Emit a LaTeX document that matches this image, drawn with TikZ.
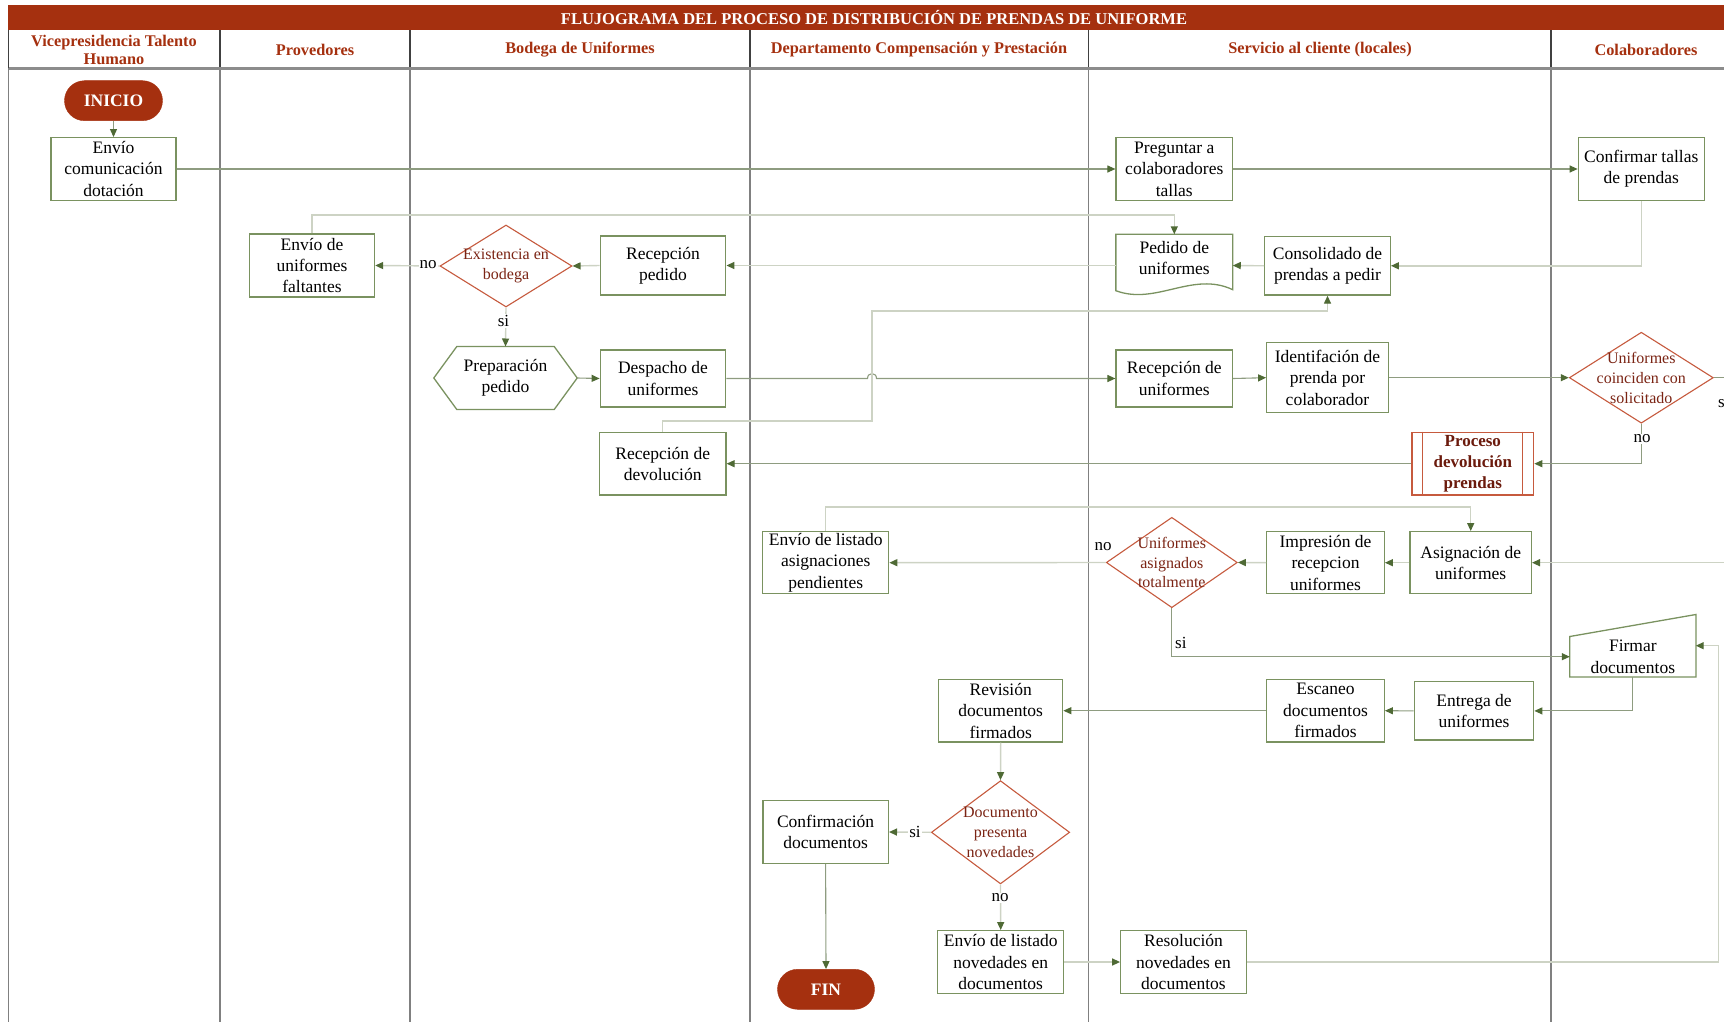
\documentclass[tikz,border=0pt]{standalone}
\usepackage{fontspec}
\setmainfont{Liberation Serif}
\usetikzlibrary{shapes.geometric,shapes.misc,arrows.meta,calc}
\definecolor{titlered}{HTML}{A5300F}
\definecolor{boxgreen}{HTML}{7A9260}
\definecolor{arrowgreen}{HTML}{4F6A35}
\definecolor{linedark}{HTML}{8E9C80}
\definecolor{linelight}{HTML}{CDD3C4}
\definecolor{decred}{HTML}{C65A3E}
\definecolor{dectext}{HTML}{7B2414}
\definecolor{proctext}{HTML}{6B1A0C}
\definecolor{lanegray}{HTML}{808080}
\tikzset{
  plainn/.style 2 args={rectangle, inner sep=0pt, align=center, minimum width=#1, minimum height=#2,
     font=\fontsize{17.5}{21.4}\selectfont, text=black},
  boxn/.style 2 args={plainn={#1}{#2}, draw=boxgreen, line width=1.3pt, fill=white},
  decn/.style 2 args={diamond, draw=decred, line width=1.1pt, fill=white, inner sep=0pt,
     minimum width=#1, minimum height=#2},
  dtxt/.style={align=center, text=dectext, inner sep=0pt, font=\fontsize{16}{19.8}\selectfont},
  termn/.style 2 args={rounded rectangle, fill=titlered, draw=titlered, text=white, inner sep=0pt,
     minimum width=#1, minimum height=#2, font=\bfseries\fontsize{17.5}{20}\selectfont},
  headt/.style={text=titlered, align=center, font=\bfseries\fontsize{16.3}{18.7}\selectfont},
  lbl/.style={fill=white, inner sep=1pt, font=\fontsize{17}{20}\selectfont},
  connd/.style={draw=linedark, line width=1.1pt, -{Triangle[length=8pt,width=7pt,color=arrowgreen]}},
  connl/.style={draw=linelight, line width=1.4pt, -{Triangle[length=8pt,width=7pt,color=arrowgreen]}},
}
\begin{document}
\begin{tikzpicture}[x=1pt,y=-1pt]
\useasboundingbox (0,0) rectangle (1724,1022);
% ---- title and header ----
\fill[titlered] (8.3,5) rectangle (1724,30);
\node[text=white, font=\bfseries\fontsize{16.5}{19}\selectfont] (title) at (874,17.5)
  {FLUJOGRAMA DEL PROCESO DE DISTRIBUCIÓN DE PRENDAS DE UNIFORME};
\foreach \x in {8.5,220,410,750,1088.5,1551}{
  \draw[lanegray, line width=1.2pt] (\x,30) -- (\x,1022);
  \draw[black!75, line width=1.2pt] (\x,30) -- (\x,68);
}
\draw[black!45, line width=2.6pt] (8.5,68.5) -- (1724,68.5);
\node[headt] (h1) at (114,50) {Vicepresidencia Talento\\Humano};
\node[headt] (h2) at (315,49.5) {Provedores};
\node[headt] (h3) at (580,49.5) {Bodega de Uniformes};
\node[headt] (h4) at (919,49.5) {Departamento Compensación y Prestación};
\node[headt] (h5) at (1320,49.5) {Servicio al cliente (locales)};
\node[headt] (h6) at (1646,49.5) {Colaboradores};
% ---- nodes ----
\node[termn={98}{40}] (init) at (113.5,100.7) {INICIO};
\node[boxn={125}{62.6}] (envio) at (113.5,169) {Envío\\comunicación\\dotación};
\node[boxn={116.5}{62.6}] (preg) at (1174.3,169) {Preguntar a\\colaboradores\\tallas};
\node[boxn={126}{62.6}] (conf) at (1641.3,169) {Confirmar tallas\\de prendas};
\node[boxn={125}{63}] (faltantes) at (312,265.5) {Envío de\\uniformes\\faltantes};
\node[decn={132}{82}, label={[dtxt]center:{Existencia en\\bodega}}] (exist) at (506,266) {};
\node[boxn={125.5}{59}] (recped) at (663,265.5) {Recepción\\pedido};
\node[plainn={116.5}{62}] (pedido) at (1174.3,265.5) {};
\node[font=\fontsize{17.5}{21.4}\selectfont, align=center, inner sep=0pt] (pedidotxt) at (1174.3,258) {Pedido de\\uniformes};
\node[boxn={125.5}{58.5}] (consol) at (1327.5,265.8) {Consolidado de\\prendas a pedir};
\node[plainn={143}{62.6}] (prep) at (505.5,378) {Preparación\\pedido};
\node[boxn={125.5}{57}] (desp) at (663,378.5) {Despacho de\\uniformes};
\node[boxn={116.5}{57}] (recunif) at (1174.3,378.5) {Recepción de\\uniformes};
\node[boxn={121.5}{70}] (ident) at (1327.5,377.7) {Identifación de\\prenda por\\colaborador};
\node[decn={144}{91}, label={[dtxt]center:{Uniformes\\coinciden con\\solicitado}}] (coinc) at (1641.3,377.7) {};
\node[rectangle, draw=decred, line width=1.3pt, fill=white, inner sep=0pt, minimum width=121.7, minimum height=62.7,
  align=center, text=proctext, font=\bfseries\fontsize{17}{21.3}\selectfont] (procdev) at (1472.8,463.7) {Proceso\\devolución\\prendas};
\draw[decred, line width=1.1pt] ([xshift=11.5pt]procdev.north west) -- ([xshift=11.5pt]procdev.south west)
  ([xshift=-11.5pt]procdev.north east) -- ([xshift=-11.5pt]procdev.south east);
\node[boxn={126.5}{62.7}] (recdev) at (662.7,463.7) {Recepción de\\devolución};
\node[boxn={126}{62}] (listasig) at (825.7,562.7) {Envío de listado\\asignaciones\\pendientes};
\node[decn={131}{90.4}, label={[dtxt]center:{Uniformes\\asignados\\totalmente}}] (asignados) at (1171.8,562.5) {};
\node[boxn={117.5}{62}] (impresion) at (1325.5,562.7) {Impresión de\\recepcion\\uniformes};
\node[boxn={121.3}{62}] (asignacion) at (1470.7,562.7) {Asignación de\\uniformes};
\node[plainn={125.7}{40}] (firmar) at (1632.85,656.7) {Firmar\\documentos};
\node[boxn={119.4}{58.3}] (entrega) at (1474,710.9) {Entrega de\\uniformes};
\node[boxn={117.5}{62.7}] (escaneo) at (1325.5,710.7) {Escaneo\\documentos\\firmados};
\node[boxn={124}{62.7}] (revision) at (1000.7,710.7) {Revisión\\documentos\\firmados};
\node[decn={138.3}{103.3}, label={[dtxt]center:{Documento\\presenta\\novedades}}] (novedades) at (1000.5,832.3) {};
\node[boxn={125.5}{62.6}] (confirm) at (825.6,832) {Confirmación\\documentos};
\node[boxn={126}{62.6}] (listnov) at (1000.7,962) {Envío de listado\\novedades en\\documentos};
\node[boxn={125.5}{62.6}] (resol) at (1183.5,962) {Resolución\\novedades en\\documentos};
\node[termn={97}{40}] (fin) at (826,989.3) {FIN};
% special outlines
\draw[boxgreen, line width=1.3pt] (prep.west) -- ([xshift=23pt]prep.north west) -- ([xshift=-23pt]prep.north east)
  -- (prep.east) -- ([xshift=-23pt]prep.south east) -- ([xshift=23pt]prep.south west) -- cycle;
\draw[boxgreen, line width=1.3pt] (pedido.north west) -- (pedido.north east) -- ([yshift=7pt]pedido.south east)
  .. controls ([xshift=-40pt,yshift=26pt]pedido.south east) and ([xshift=40pt,yshift=-9pt]pedido.south west)
  .. ([yshift=6pt]pedido.south west) -- cycle;
\draw[boxgreen, line width=1.3pt] (firmar.south west) -- (firmar.north west) -- ([yshift=22pt]firmar.north east)
  -- (firmar.south east) -- cycle;
% free ends
\coordinate (edgeA) at (1724,377.7);
\coordinate (edgeB) at (1724,562.7);
\coordinate (firmarR) at (1695.7,645.7);
% ---- connectors ----
\draw[connd] (init.south) -- (envio.north);
\draw[connd] (envio.east) -- (preg.west);
\draw[connd] (preg.east) -- (conf.west);
\draw[connl] (conf.south) |- (consol.east);
\draw[connl] (consol.west) -- (pedido.east);
\draw[connl] (pedido.west) -- (recped.east);
\draw[connl] (recped.west) -- (exist.east);
\draw[connl] (exist.west) -- (faltantes.east);
\draw[connl] (exist.south) -- (prep.north);
\draw[connl] (faltantes.north) -- ++(0,-18.5) -| (pedido.north);
\draw[connd] (prep.east) -- (desp.west);
\draw[connd] (desp.east) -- (867.5,378.5) .. controls (867.5,372) and (876.5,372) .. (876.5,378.5) -- (recunif.west);
\draw[connd] (recunif.east) -- (ident.west);
\draw[connd] (ident.east) -- (coinc.west);
\draw[draw=linedark, line width=1.1pt] (coinc.east) -- (edgeA);
\draw[connd] (coinc.south) |- (procdev.east);
\draw[connd] (procdev.west) -- (recdev.east);
\draw[connl] (recdev.north) |- (872,421) -- (872,311) -| (consol.south);
\draw[connl] (edgeB) -- (asignacion.east);
\draw[connl] (asignacion.west) -- (impresion.east);
\draw[connl] (impresion.west) -- (asignados.east);
\draw[connl] (asignados.west) -- (listasig.east);
\draw[connl] (listasig.north) -- ++(0,-24) -| (asignacion.north);
\draw[connd] (asignados.south) |- (firmar.west);
\draw[connd] (firmar.south) |- (entrega.east);
\draw[connd] (entrega.west) -- (escaneo.east);
\draw[connd] (escaneo.west) -- (revision.east);
\draw[connl] (revision.south) -- (novedades.north);
\draw[connl] (novedades.west) -- (confirm.east);
\draw[connl] (novedades.south) -- (listnov.north);
\draw[connd] (confirm.south) -- (fin.north);
\draw[connl] (listnov.east) -- (resol.west);
\draw[connl] (resol.east) -- (1718.3,962) |- (firmarR);
% ---- labels ----
\node[lbl] (l1) at (428,265) {no};
\node[lbl] (l2) at (503.5,321) {si};
\node[lbl] (l3) at (1642,439) {no};
\node[lbl, anchor=west, fill=none] (l4) at (1717,402) {si};
\node[lbl, fill=none] (l5) at (1103,546.5) {no};
\node[lbl, anchor=west, fill=none] (l6) at (1174,643) {si};
\node[lbl] (l7) at (915,832) {si};
\node[lbl] (l8) at (1000,898) {no};
\end{tikzpicture}
\end{document}
